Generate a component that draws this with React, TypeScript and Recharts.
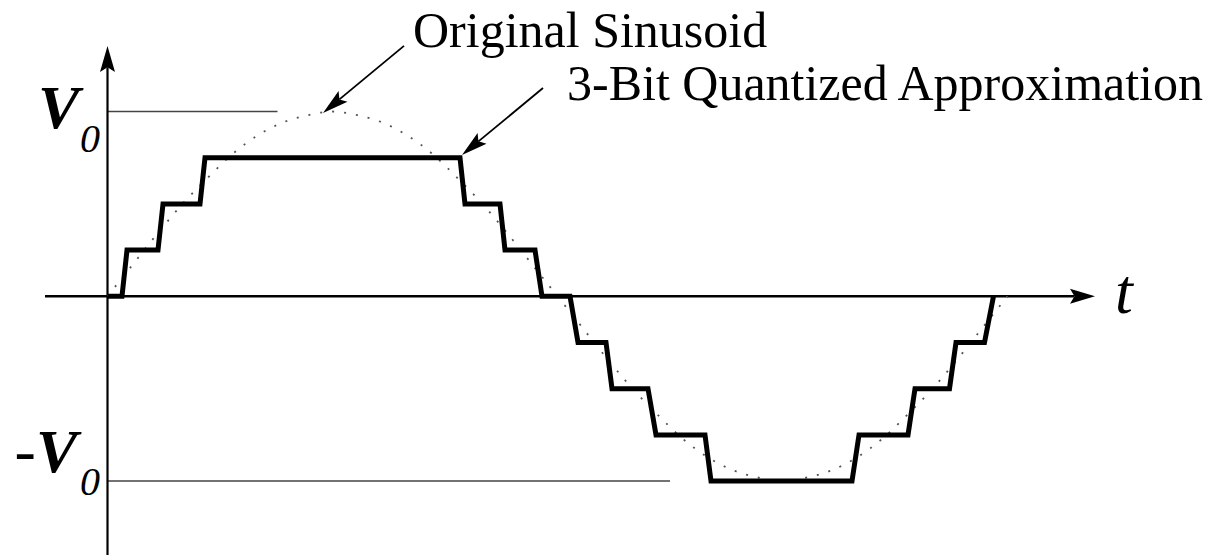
import React from 'react';
import { LineChart, Line, XAxis, YAxis, ReferenceLine, ReferenceDot } from 'recharts';

// time in degrees of the sinusoid's phase
const sineT = [0, 10, 20, 30, 40, 50, 60, 70, 80, 90, 100, 110, 120, 130, 140, 150, 160, 170, 180, 190, 200, 210, 220, 230, 240, 250, 260, 270, 280, 290, 300, 310, 320, 330, 340, 350, 360];
const sineV = [0, 0.17, 0.34, 0.5, 0.64, 0.77, 0.87, 0.94, 0.98, 1, 0.98, 0.94, 0.87, 0.77, 0.64, 0.5, 0.34, 0.17, 0, -0.17, -0.34, -0.5, -0.64, -0.77, -0.87, -0.94, -0.98, -1, -0.98, -0.94, -0.87, -0.77, -0.64, -0.5, -0.34, -0.17, 0];

const quantT = [0, 5.8, 7.8, 20.2, 22.2, 37, 39, 141, 143, 157, 159, 171, 173.8, 185, 188.2, 199.4, 201.8, 216.2, 219.4, 239, 241.4, 297.8, 300.6, 320.2, 323, 336.8, 339.4, 350.8, 354.4];
const quantV = [0, 0, 0.25, 0.25, 0.5, 0.5, 0.75, 0.75, 0.5, 0.5, 0.25, 0.25, 0, 0, -0.25, -0.25, -0.5, -0.5, -0.75, -0.75, -1, -1, -0.75, -0.75, -0.5, -0.5, -0.25, -0.25, 0];

const xDomain: [number, number] = [-25, 395];
const yDomain: [number, number] = [-1.4, 1.36];

const levelLabels = ['V', '0'];
const titleSine = 'Original Sinusoid';
const titleQuant = '3-Bit Quantized Approximation';
const axisLabel = 't';

// annotation arrows: [tStart, vStart, tEnd, vEnd]
const arrowSine = [118.6, 1.355, 86.2, 0.992];
const arrowQuant = [174.2, 1.127, 141.8, 0.765];

const sineData = sineT.map((t, i) => ({ t, v: sineV[i] }));
const quantData = quantT.map((t, i) => ({ t, v: quantV[i] }));

const FONT = '"Liberation Serif", "Times New Roman", Times, serif';

const arrowShape = (headLen: number, headHalf: number, width: number, color: string) => (p: any) => {
  const { x1, y1, x2, y2 } = p;
  const dx = x2 - x1;
  const dy = y2 - y1;
  const L = Math.hypot(dx, dy) || 1;
  const ux = dx / L;
  const uy = dy / L;
  const nx = -uy;
  const ny = ux;
  const bx = x2 - ux * headLen;
  const by = y2 - uy * headLen;
  const notchX = bx + ux * headLen * 0.18;
  const notchY = by + uy * headLen * 0.18;
  const pts = [
    [x2, y2],
    [bx + nx * headHalf, by + ny * headHalf],
    [notchX, notchY],
    [bx - nx * headHalf, by - ny * headHalf],
  ]
    .map((q) => q.join(','))
    .join(' ');
  return (
    <g>
      <line x1={x1} y1={y1} x2={notchX} y2={notchY} stroke={color} strokeWidth={width} />
      <polygon points={pts} fill={color} stroke="none" />
    </g>
  );
};

const levelLabel = (neg: boolean) => (p: any) => {
  const { cx, cy } = p;
  const vx = cx - (neg ? 71.5 : 69.5);
  const vy = cy + (neg ? -9 : 16.5);
  const sx = cx - 27.5;
  const sy = cy + (neg ? 14 : 40.5);
  return (
    <g fontFamily={FONT} fill="#000">
      {neg ? (
        <text x={cx - 93} y={vy} fontSize={64}>-</text>
      ) : null}
      <text x={vx} y={vy} fontSize={62} fontWeight="bold" fontStyle="italic">
        {levelLabels[0]}
      </text>
      <text x={sx} y={sy} fontSize={40} fontStyle="italic">
        {levelLabels[1]}
      </text>
    </g>
  );
};

const textAt = (label: string, size: number, dx: number, dy: number, italic = false, bold = false) => (p: any) => (
  <text
    x={p.cx + dx}
    y={p.cy + dy}
    fontFamily={FONT}
    fontSize={size}
    fontStyle={italic ? 'italic' : 'normal'}
    fontWeight={bold ? 'bold' : 'normal'}
    fill="#000"
  >
    {label}
  </text>
);

export default function App() {
  return (
    <div style={{ position: 'absolute', left: 0, top: 0, width: 1221, height: 555, background: '#fff' }}>
      <LineChart width={1221} height={555} margin={{ top: 45, right: 126, bottom: 0, left: 45 }}>
        <XAxis hide type="number" dataKey="t" domain={xDomain} allowDataOverflow />
        <YAxis hide type="number" domain={yDomain} allowDataOverflow />

        <ReferenceLine
          segment={[{ x: 0, y: 1 }, { x: 68, y: 1 }]}
          stroke="#444"
          strokeWidth={1.5}
        />
        <ReferenceLine
          segment={[{ x: 0, y: -1 }, { x: 225, y: -1 }]}
          stroke="#444"
          strokeWidth={1.5}
        />
        <ReferenceLine
          segment={[{ x: xDomain[0], y: 0 }, { x: xDomain[1], y: 0 }]}
          shape={arrowShape(25, 7.5, 2.5, '#000')}
        />
        <ReferenceLine
          segment={[{ x: 0, y: yDomain[0] }, { x: 0, y: yDomain[1] - 0.005 }]}
          shape={arrowShape(26, 7.5, 2.2, '#000')}
        />

        <Line
          data={sineData}
          dataKey="v"
          type="monotone"
          stroke="#555"
          strokeWidth={1.8}
          strokeDasharray="2 10"
          dot={false}
          activeDot={false}
          isAnimationActive={false}
        />
        <Line
          data={quantData}
          dataKey="v"
          type="linear"
          stroke="#000"
          strokeWidth={5}
          strokeLinejoin="miter"
          dot={false}
          activeDot={false}
          isAnimationActive={false}
        />

        <ReferenceLine
          segment={[{ x: arrowSine[0], y: arrowSine[1] }, { x: arrowSine[2], y: arrowSine[3] }]}
          shape={arrowShape(26, 7, 1.8, '#000')}
        />
        <ReferenceLine
          segment={[{ x: arrowQuant[0], y: arrowQuant[1] }, { x: arrowQuant[2], y: arrowQuant[3] }]}
          shape={arrowShape(26, 7, 1.8, '#000')}
        />

        <ReferenceDot x={0} y={1} r={0} ifOverflow="visible" shape={levelLabel(false)} />
        <ReferenceDot x={0} y={-1} r={0} ifOverflow="visible" shape={levelLabel(true)} />
        <ReferenceDot x={xDomain[1]} y={0} r={0} ifOverflow="visible" shape={textAt(axisLabel, 64, 20, 17, true, false)} />
        <ReferenceDot x={arrowSine[0]} y={arrowSine[1]} r={0} ifOverflow="visible" shape={textAt(titleSine, 50, 9, 1)} />
        <ReferenceDot x={arrowQuant[0]} y={arrowQuant[1]} r={0} ifOverflow="visible" shape={textAt(titleQuant, 50, 24, 12)} />
      </LineChart>
    </div>
  );
}
